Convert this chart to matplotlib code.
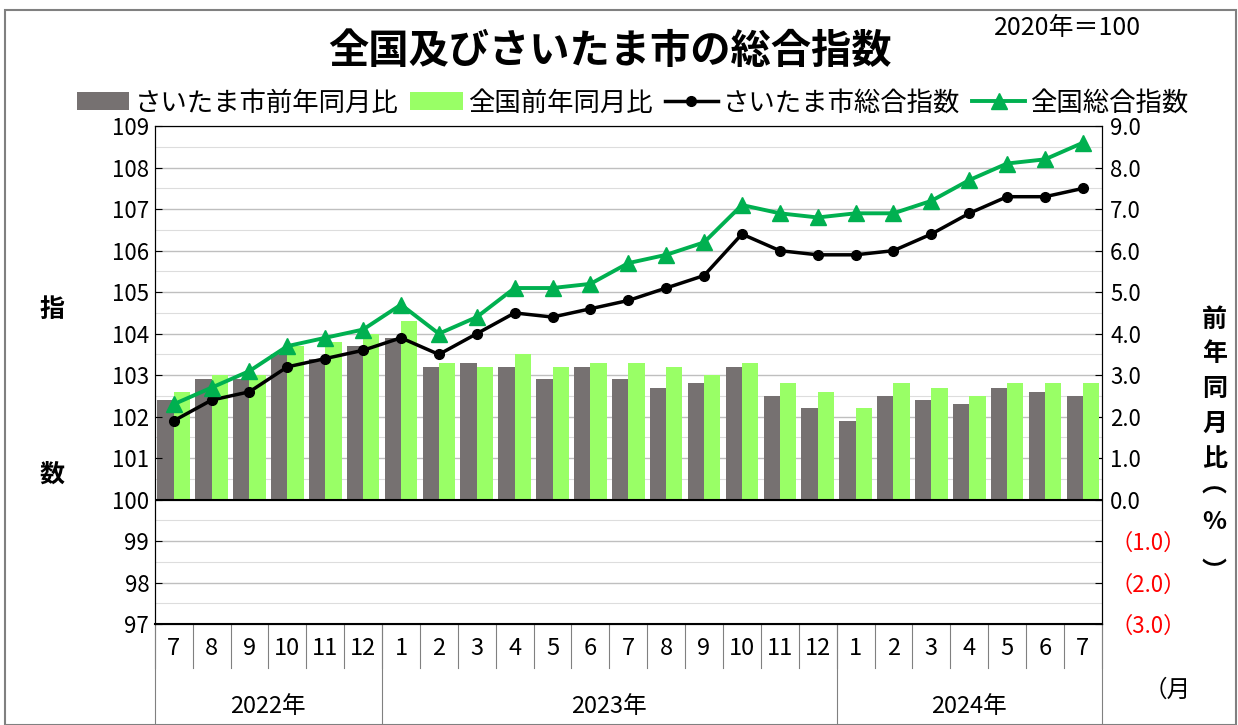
import numpy as np
import matplotlib.pyplot as plt
import matplotlib.transforms as mtransforms
from matplotlib.patches import Rectangle

plt.rcParams['font.family'] = ['Noto Sans CJK JP', 'DejaVu Sans']

# --- DATA ---
months = ['7', '8', '9', '10', '11', '12',
          '1', '2', '3', '4', '5', '6', '7', '8', '9', '10', '11', '12',
          '1', '2', '3', '4', '5', '6', '7']
years = ['2022年', '2023年', '2024年']
year_spans = [6, 12, 7]

saitama_yoy = [2.4, 2.9, 2.9, 3.5, 3.4, 3.7,
               3.9, 3.2, 3.3, 3.2, 2.9, 3.2, 2.9, 2.7, 2.8, 3.2, 2.5, 2.2,
               1.9, 2.5, 2.4, 2.3, 2.7, 2.6, 2.5]
national_yoy = [2.6, 3.0, 3.0, 3.7, 3.8, 4.0,
                4.3, 3.3, 3.2, 3.5, 3.2, 3.3, 3.3, 3.2, 3.0, 3.3, 2.8, 2.6,
                2.2, 2.8, 2.7, 2.5, 2.8, 2.8, 2.8]
saitama_idx = [101.9, 102.4, 102.6, 103.2, 103.4, 103.6,
               103.9, 103.5, 104.0, 104.5, 104.4, 104.6, 104.8, 105.1, 105.4, 106.4, 106.0, 105.9,
               105.9, 106.0, 106.4, 106.9, 107.3, 107.3, 107.5]
national_idx = [102.3, 102.7, 103.1, 103.7, 103.9, 104.1,
                104.7, 104.0, 104.4, 105.1, 105.1, 105.2, 105.7, 105.9, 106.2, 107.1, 106.9, 106.8,
                106.9, 106.9, 107.2, 107.7, 108.1, 108.2, 108.6]

# --- FIGURE ---
fig = plt.figure(figsize=(12.38, 7.25), dpi=100)
ax = fig.add_axes([0.125, 0.139, 0.765, 0.687])
x = np.arange(len(months))
w = 0.43

# bars: year-on-year (%), right scale
b1 = ax.bar(x - w/2, saitama_yoy, w, color='#767171', label='さいたま市前年同月比', zorder=2)
b2 = ax.bar(x + w/2, national_yoy, w, color='#99FF66', label='全国前年同月比', zorder=2)
ax.set_xlim(-0.5, len(months) - 0.5)
ax.set_ylim(-3, 9)
ax.grid(axis='y', which='major', color='#BFBFBF', lw=1)
ax.grid(axis='y', which='minor', color='#DDDDDD', lw=0.8)
ax.set_axisbelow(True)
ax.axhline(0, color='black', lw=1.5, zorder=3)
ax.set_xticks(x)
ax.set_xticklabels(months, fontsize=17)
ax.tick_params(axis='x', length=0, pad=9)
for s in ax.spines.values():
    s.set_color('black')
ax.spines['bottom'].set_linewidth(1.5)

# lines: composite index, left scale
ax2 = ax.twinx()
ax.yaxis.tick_right()
yt = np.arange(-3, 10, 1)
ax.set_yticks(yt)
ax.set_yticks(np.arange(-3, 9.5, 0.5), minor=True)
ax.set_yticklabels([f'（{abs(v):.1f}）' if v < 0 else f'{v:.1f}' for v in yt], fontsize=16)
ax.tick_params(axis='y', which='major', direction='in', length=5, pad=6)
ax.tick_params(axis='y', which='minor', length=0)
ax2.yaxis.tick_left()
l1, = ax2.plot(x, saitama_idx, color='black', lw=2.5, marker='o', markersize=7,
               label='さいたま市総合指数')
l2, = ax2.plot(x, national_idx, color='#00B050', lw=2.8, marker='^', markersize=11,
               label='全国総合指数')
ax2.set_ylim(97, 109)
ax2.set_yticks(np.arange(97, 110, 1))
ax2.tick_params(axis='y', direction='in', length=5, pad=4, labelsize=16)

# month / year separators under the axis
trans = mtransforms.blended_transform_factory(ax.transData, ax.transAxes)
for i in range(len(months) + 1):
    ax.plot([i - 0.5, i - 0.5], [0, -0.088], transform=trans, clip_on=False,
            color='#808080', lw=0.8)
start = 0
for yr, n in zip(years, year_spans):
    ax.plot([start - 0.5, start - 0.5], [0, -0.215], transform=trans, clip_on=False,
            color='#808080', lw=0.8)
    ax.text(start + (n - 1) / 2, -0.165, yr, transform=trans, ha='center', va='center',
            fontsize=17)
    start += n
ax.plot([start - 0.5, start - 0.5], [0, -0.215], transform=trans, clip_on=False,
        color='#808080', lw=0.8)

# legend
fig.legend([b1, b2, l1, l2], [h.get_label() for h in (b1, b2, l1, l2)],
           ncol=4, loc='center', bbox_to_anchor=(0.511, 0.858), frameon=False,
           fontsize=19, handlelength=2.0, handletextpad=0.2, columnspacing=0.45)

# titles and axis labels
fig.text(0.493, 0.929, '全国及びさいたま市の総合指数', fontsize=29, weight='bold',
         ha='center', va='center')
fig.text(0.862, 0.961, '2020年＝100', fontsize=18, ha='center', va='center')
fig.text(0.042, 0.572, '指', fontsize=18, weight='bold', ha='center', va='center')
fig.text(0.042, 0.345, '数', fontsize=18, weight='bold', ha='center', va='center')
for ch, yp in zip(['前', '年', '同', '月', '比', '︵', '%', '︶'],
                  [320, 354, 389, 424, 459, 486, 522, 572]):
    fig.text(0.981, 1 - yp / 725, ch, fontsize=18, weight='bold', ha='center', va='center')
fig.text(0.943, 0.048, '（月', fontsize=17, ha='center', va='center')

# outer frame
fig.add_artist(Rectangle((0.004, 0.0), 0.994, 0.986, transform=fig.transFigure,
                         fill=False, edgecolor='#808080', lw=1.5))

# negative percentages in red
for t, v in zip(ax.get_yticklabels(), yt):
    if v < 0:
        t.set_color('red')

plt.savefig('out.png', dpi=100)
